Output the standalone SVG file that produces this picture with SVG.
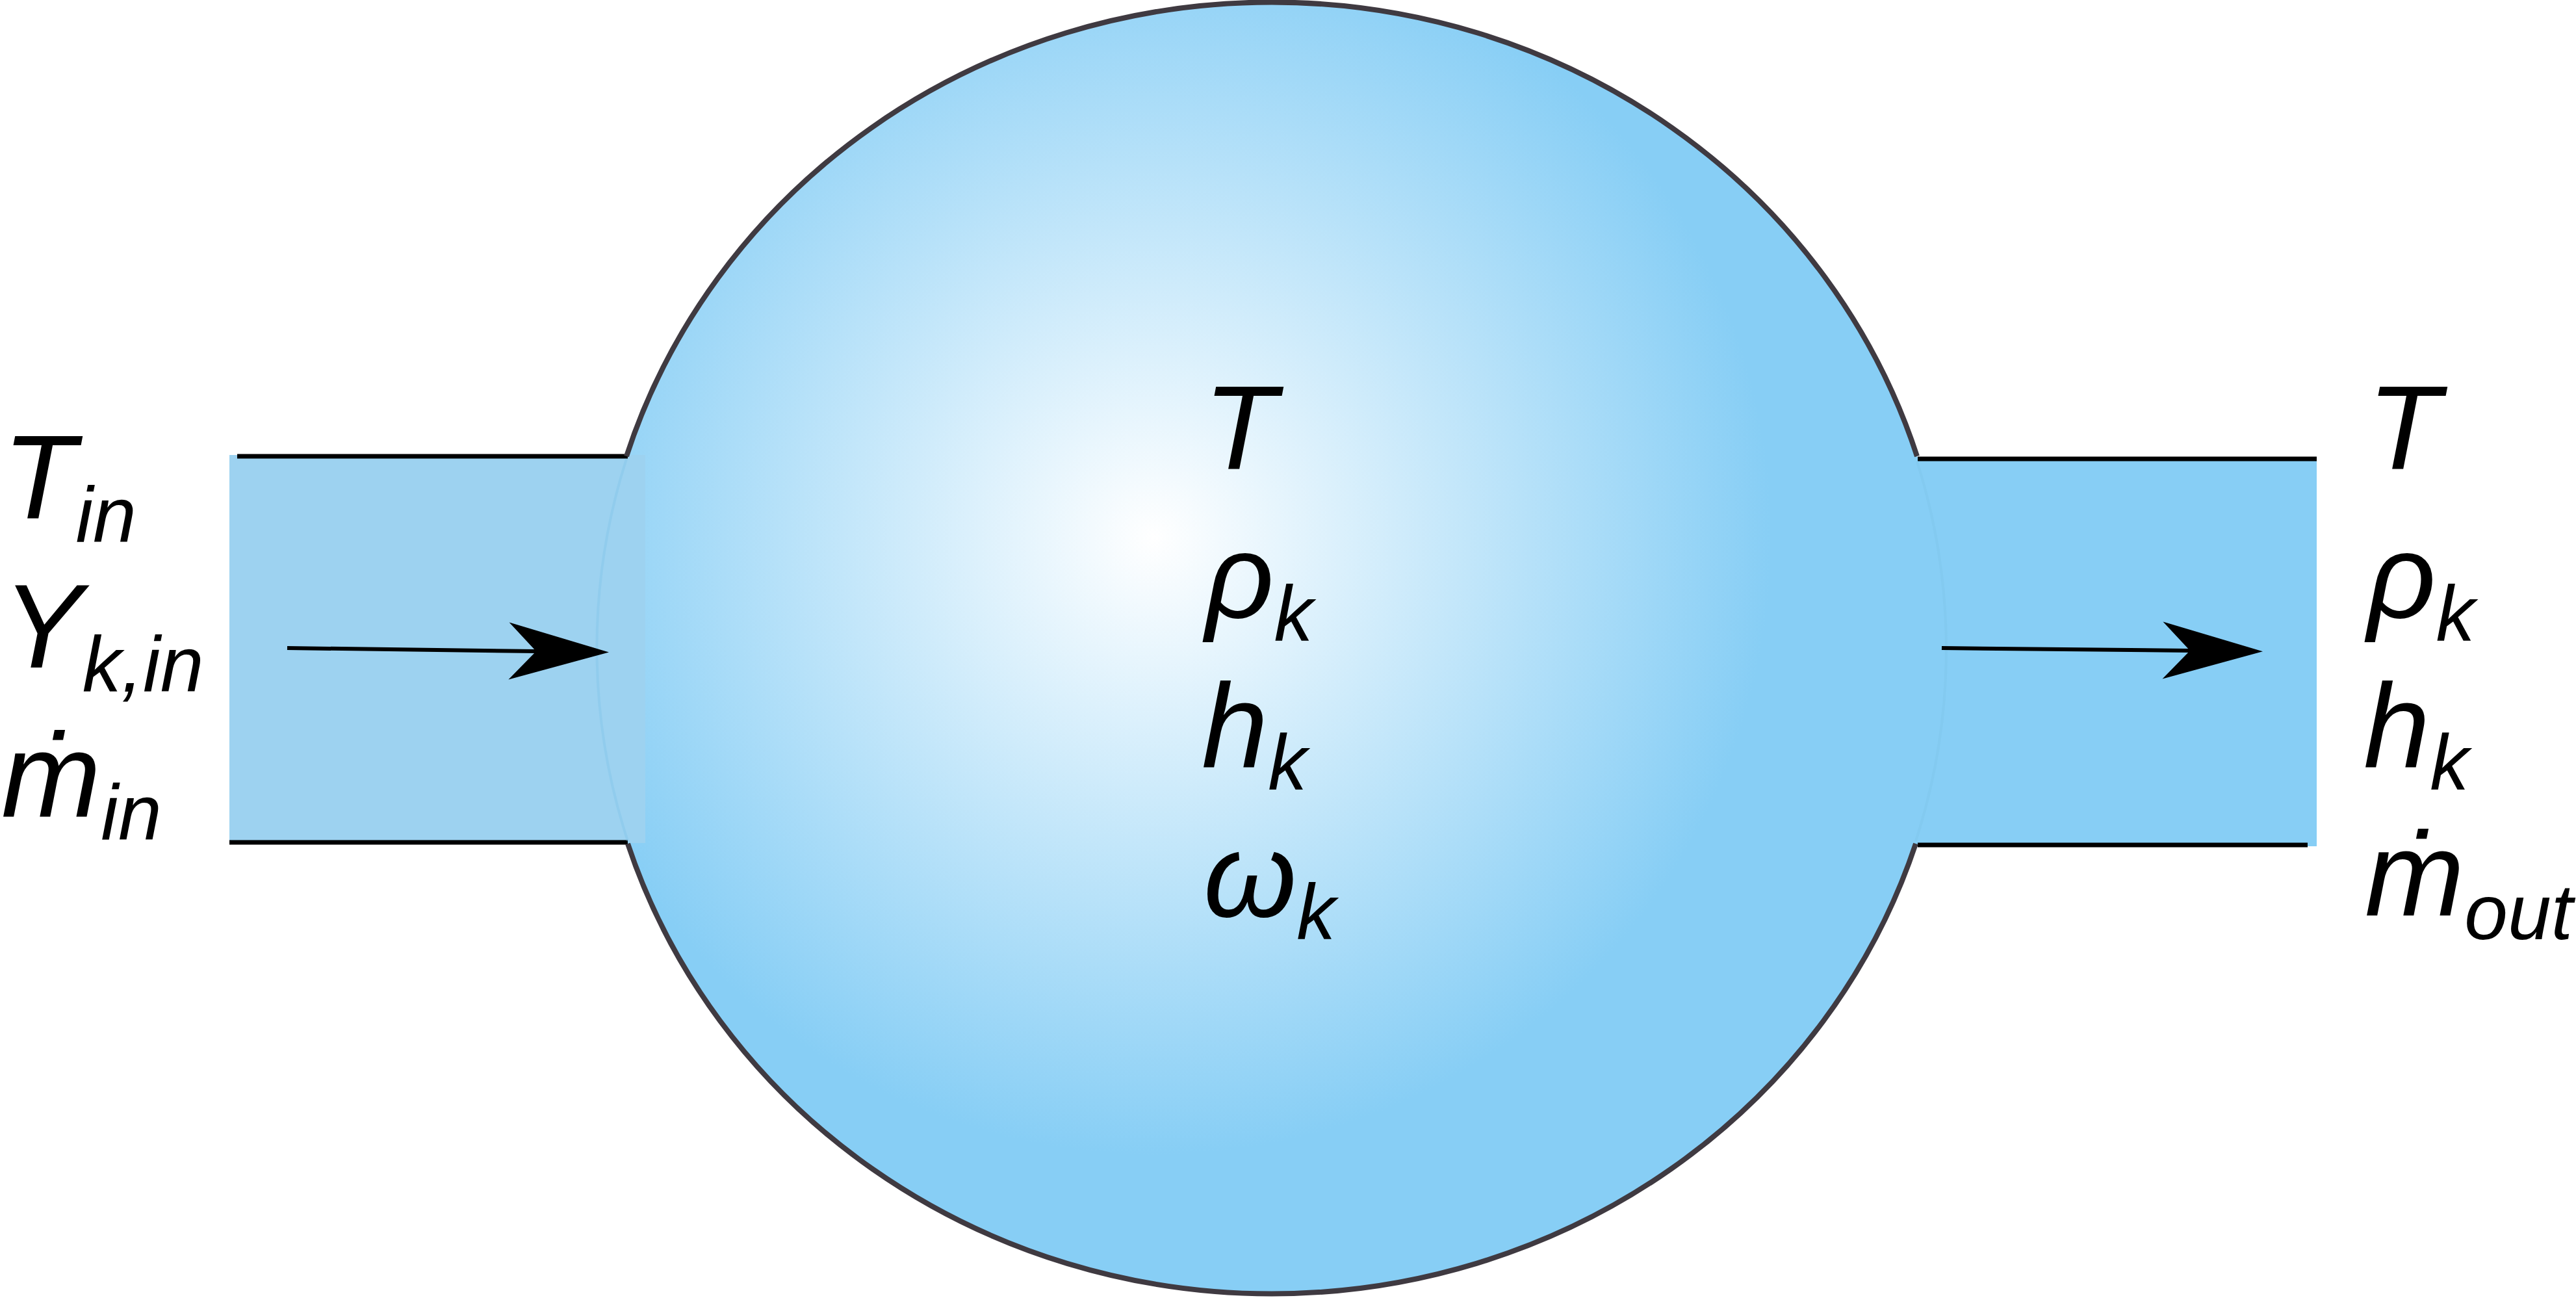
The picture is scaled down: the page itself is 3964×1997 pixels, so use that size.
<svg xmlns="http://www.w3.org/2000/svg" width="3964" height="1997" viewBox="0 0 3964 1997">
  <style>
    .lbl { font-family: "Liberation Sans", Arial, sans-serif; font-style: italic; font-size: 184px; fill: #000; }
    .sub { font-size: 120px; }
    .wall { stroke: #000; stroke-width: 7; fill: none; }
    .rim { stroke: #3f3a41; stroke-width: 8; fill: none; }
    .ghost { stroke: #7cc2e8; stroke-width: 4; stroke-opacity: 0.35; fill: none; }
    .flow { stroke: #000; stroke-width: 6; fill: none; marker-end: url(#head); }
  </style>
  <defs>
    <radialGradient id="glow" gradientUnits="userSpaceOnUse" cx="1776" cy="827" r="950">
      <stop offset="0" stop-color="#ffffff"/>
      <stop offset="1" stop-color="#87cef5"/>
    </radialGradient>
    <marker id="head" markerUnits="userSpaceOnUse" markerWidth="160" markerHeight="100" viewBox="-155 -50 160 100" refX="-112" refY="0" orient="auto" overflow="visible">
      <path d="M-154,-44 L0,0 L-154,44 L-112,0 Z" fill="#000"/>
    </marker>
  </defs>

  <g id="reactor">
    <ellipse cx="1957" cy="998" rx="1040" ry="994" fill="url(#glow)"/>
  </g>

  <g id="inlet">
    <rect x="353" y="700" width="640" height="597" fill="#9dd2f0"/>
    <path class="wall" d="M365,702 H966"/>
    <path class="wall" d="M353,1296 H966"/>
    <text class="lbl" x="4" y="798">T<tspan class="sub" dy="36">in</tspan></text>
    <text class="lbl" x="4" y="1027">Y<tspan class="sub" dy="37">k,in</tspan></text>
    <text class="lbl" x="2" y="1256">ṁ<tspan class="sub" dy="36">in</tspan></text>
  </g>

  <g id="outlet">
    <rect x="2923" y="703" width="642" height="599" fill="#87cef5"/>
    <path class="wall" d="M2951,706 H3565"/>
    <path class="wall" d="M2951,1300 H3551"/>
    <text class="lbl" x="3643" y="722">T</text>
    <text class="lbl" x="3643" y="950">ρ<tspan class="sub" dy="36">k</tspan></text>
    <text class="lbl" x="3637" y="1180">h<tspan class="sub" dy="35">k</tspan></text>
    <text class="lbl" x="3639" y="1408">ṁ<tspan class="sub" dy="37">out</tspan></text>
  </g>

  <g id="reactor-rim">
    <path class="rim" d="M964,702 A1040 994 0 0 1 2950,702"/>
    <path class="rim" d="M2948,1298 A1040 994 0 0 1 966,1298"/>
    <path class="ghost" d="M964,706 A1040 994 0 0 0 966,1294"/>
    <path class="ghost" d="M2950,710 A1040 994 0 0 1 2948,1294"/>
  </g>

  <g id="reactor-labels">
    <text class="lbl" x="1852" y="722">T</text>
    <text class="lbl" x="1855" y="950">ρ<tspan class="sub" dy="36">k</tspan></text>
    <text class="lbl" x="1849" y="1180">h<tspan class="sub" dy="35">k</tspan></text>
    <text class="lbl" x="1852" y="1410">ω<tspan class="sub" dy="35">k</tspan></text>
  </g>

  <g id="connectors">
    <path class="flow" d="M442,997 L825,1002"/>
    <path class="flow" d="M2988,997 L3370,1001"/>
  </g>
</svg>
